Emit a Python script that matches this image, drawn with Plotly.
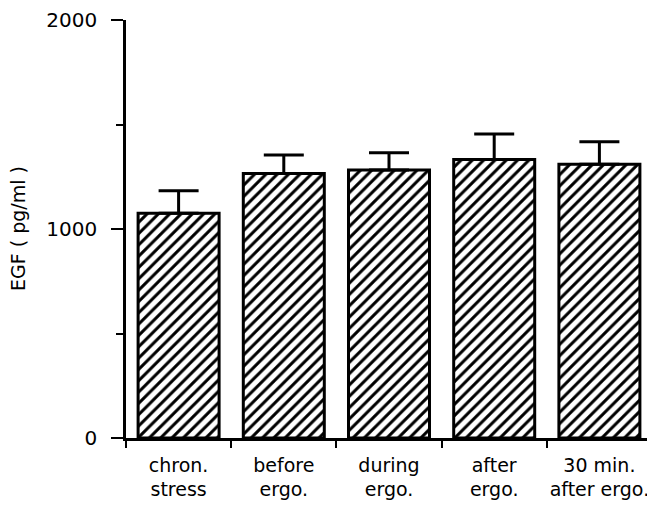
import plotly.graph_objects as go

categories = ["chron.<br>stress", "before<br>ergo.", "during<br>ergo.", "after<br>ergo.", "30 min.<br>after ergo."]
egf_mean = [1075, 1266, 1282, 1333, 1310]
egf_sem = [108, 88, 83, 122, 108]
y_major_ticks = [0, 1000, 2000]
y_major_labels = ["0", "1000", "2000"]
y_minor_ticks = [500, 1500]
y_title = "EGF ( pg/ml )"

FONT = "DejaVu Sans, Liberation Sans, Arial, sans-serif"

fig = go.Figure(go.Bar(
    x=categories,
    y=egf_mean,
    marker=dict(
        color="white",
        line=dict(color="black", width=3),
        pattern=dict(shape="/", size=8, solidity=0.38, fgcolor="black", fgopacity=1, bgcolor="white"),
    ),
    error_y=dict(type="data", array=egf_sem, arrayminus=[0] * len(egf_sem), symmetric=False,
                 color="black", thickness=3, width=20),
    showlegend=False,
))

fig.update_layout(
    width=647, height=498,
    margin=dict(l=118, r=3, t=12, b=68),
    paper_bgcolor="white", plot_bgcolor="white",
    bargap=0.23,
    font=dict(family=FONT, color="black"),
    xaxis=dict(
        type="category", range=[-0.5, 4.5], automargin=False,
        showline=True, linecolor="black", linewidth=2.5,
        ticks="outside", tickson="boundaries", ticklen=7, tickwidth=2, tickcolor="black",
        tickangle=0, ticklabelstandoff=8,
        tickfont=dict(size=19, family=FONT, color="black"),
        showgrid=False, zeroline=False, fixedrange=True,
    ),
    yaxis=dict(
        range=[0, 2000], automargin=False,
        showline=True, linecolor="black", linewidth=2.5,
        tickmode="array", tickvals=y_major_ticks, ticktext=y_major_labels,
        ticks="outside", ticklen=12, tickwidth=2, tickcolor="black",
        ticklabelstandoff=10,
        tickfont=dict(size=20, family=FONT, color="black"),
        minor=dict(tickmode="array", tickvals=y_minor_ticks, ticks="outside", ticklen=7,
                   tickwidth=2, tickcolor="black", showgrid=False),
        showgrid=False, zeroline=False, fixedrange=True,
    ),
    annotations=[dict(
        text=y_title, textangle=-90, xref="paper", yref="paper",
        x=0, y=0.5, xanchor="center", yanchor="middle", xshift=-108, showarrow=False,
        font=dict(size=19, family=FONT, color="black"),
    )],
)

fig.write_html("out.html")
